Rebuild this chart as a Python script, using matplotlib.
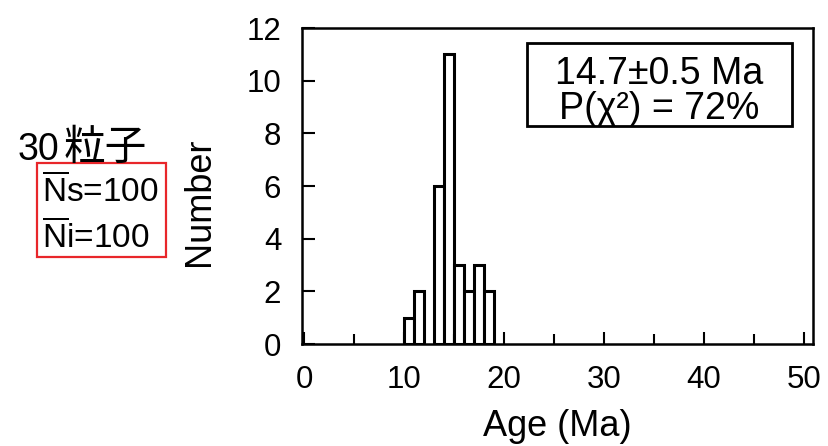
import matplotlib
matplotlib.use("Agg")
import matplotlib.pyplot as plt
from matplotlib.patches import Rectangle
from matplotlib.ticker import MultipleLocator

plt.rcParams['font.family'] = ['Liberation Sans', 'Noto Sans CJK JP', 'DejaVu Sans']
plt.rcParams['mathtext.fontset'] = 'custom'
plt.rcParams['mathtext.rm'] = 'Liberation Sans'

# Data
bin_left = [10, 11, 13, 14, 15, 16, 17, 18]
counts = [1, 2, 6, 11, 3, 2, 3, 2]
bin_width = 1
x_ticks = [0, 10, 20, 30, 40, 50]
y_ticks = [0, 2, 4, 6, 8, 10, 12]
age_text = "14.7±0.5 Ma"
p_text = "P(χ²) = 72%"
grains_num = "30"
grains_unit = "粒子"
ns_text = r"$\overline{\mathrm{N}}$s=100"
ni_text = r"$\overline{\mathrm{N}}$i=100"

W, H = 829, 446
fig = plt.figure(figsize=(W/100, H/100), dpi=100)
ax = fig.add_axes([302/W, 1-344/H, (813-302)/W, (344-28)/H])

ax.bar(bin_left, counts, width=bin_width, align='edge',
       facecolor='white', edgecolor='black', linewidth=2.2)

ax.set_xlim(-0.2, 50.9)
ax.set_ylim(0, 12)
ax.set_xticks(x_ticks)
ax.xaxis.set_minor_locator(MultipleLocator(5))
ax.set_yticks(y_ticks)
ax.tick_params(axis='both', which='both', direction='in', top=False, right=False,
               width=1.5, labelsize=22.5, pad=15)
ax.tick_params(axis='both', which='major', length=9)
ax.tick_params(axis='x', which='minor', length=7)
for s in ax.spines.values():
    s.set_linewidth(1.8)

ax.set_xlabel("Age (Ma)", fontsize=26, va='center')
ax.xaxis.set_label_coords(0.5, -0.26)
ax.set_ylabel("Number", fontsize=26, va='center')
ax.yaxis.set_label_coords(-0.2, 0.45)

# Inner result box (figure pixel coords)
def fx(px):
    return px / W
def fy(py):
    return 1 - py / H

fig.patches.append(Rectangle((fx(527), fy(126)), fx(792) - fx(527), fy(43) - fy(126),
                             transform=fig.transFigure, fill=False,
                             edgecolor='black', linewidth=2.0))
fig.text(fx(659), fy(74), age_text, fontsize=27, ha='center', va='center')
fig.text(fx(659), fy(109), p_text, fontsize=27, ha='center', va='center')

# Left annotation
fig.text(fx(18), fy(160), grains_num, fontsize=27, ha='left', va='baseline')
fig.text(fx(64), fy(160), grains_unit, fontsize=30, ha='left', va='baseline',
         family=['Noto Sans CJK JP'])
fig.text(fx(42), fy(191), ns_text, fontsize=24, ha='left', va='center')
fig.text(fx(42), fy(237), ni_text, fontsize=24, ha='left', va='center')
fig.patches.append(Rectangle((fx(37), fy(257)), fx(166) - fx(37), fy(163) - fy(257),
                             transform=fig.transFigure, fill=False,
                             edgecolor='#e8262a', linewidth=1.6))

fig.savefig("out.png", dpi=100)
